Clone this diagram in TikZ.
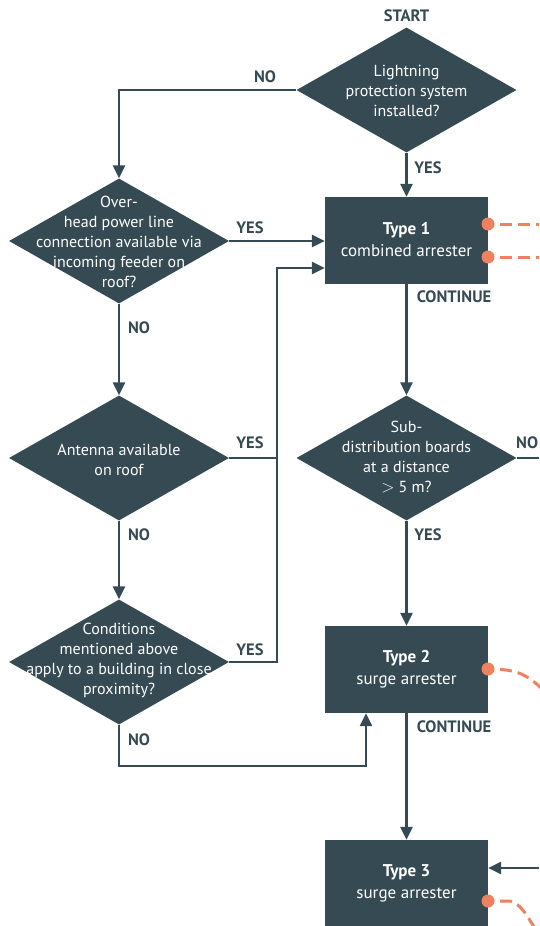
\documentclass[tikz,border=0pt]{standalone}
\usepackage{fontspec}
\setmainfont{PT Sans}
\usetikzlibrary{shapes.geometric,arrows.meta}
\definecolor{slate}{HTML}{364A53}
\definecolor{coral}{HTML}{EF8161}
\begin{document}
\begin{tikzpicture}[x=1pt,y=-1pt,
  dia/.style={diamond,fill=slate,minimum width=220pt,minimum height=125pt,inner sep=0pt},
  dtext/.style={text=white,align=center,font=\fontsize{16}{20}\selectfont},
  box/.style={rectangle,fill=slate,minimum width=163pt,minimum height=87pt,inner sep=0pt},
  btext/.style={text=white,align=center,font=\fontsize{17}{22}\selectfont},
  lbl/.style={text=slate,font=\bfseries\fontsize{16.5}{18}\selectfont},
  conn/.style={draw=slate,line width=2.5pt},
  arr/.style={conn,-{Triangle[length=13pt,width=12pt]}},
  tap/.style={draw=coral,line width=3pt,dash pattern=on 12pt off 6pt,dash phase=6pt},
  dot/.style={circle,fill=coral,minimum size=13pt,inner sep=0pt}
]
\useasboundingbox (0,0) rectangle (539,926);

% shapes
\node[dia] (d1) at (406.5,90) {};
\node[dia] (d2) at (119,241) {};
\node[dia] (d3) at (119,458) {};
\node[dia] (d4) at (119,662) {};
\node[dia] (d5) at (406.5,458) {};
\node[box] (b1) at (406.5,240.5) {};
\node[box] (b2) at (406.5,669.5) {};
\node[box] (b3) at (406.5,883.5) {};

% texts
\node[dtext] (t1) at (406.5,91) {Lightning\\protection system\\installed?};
\node[dtext] (t2) at (119,242) {Over-\\head power line\\connection available via\\incoming feeder on\\roof?};
\node[dtext] (t3) at (119,460) {Antenna available\\on roof};
\node[dtext] (t4) at (119,660) {Conditions\\mentioned above\\apply to a building in close\\proximity?};
\node[dtext] (t5) at (406.5,457) {Sub-\\distribution boards\\at a distance\\$>$ 5 m?};
\node[btext] (bt1) at (406.5,240) {\textbf{Type 1}\\combined arrester};
\node[btext] (bt2) at (406.5,669) {\textbf{Type 2}\\surge arrester};
\node[btext] (bt3) at (406.5,883) {\textbf{Type 3}\\surge arrester};

% labels
\node[lbl] (lstart) at (406.5,16) {START};
\node[lbl] (l1) at (265,77) {NO};
\node[lbl] (l2) at (428,168) {YES};
\node[lbl] (l3) at (250,228) {YES};
\node[lbl] (l4) at (454,297) {CONTINUE};
\node[lbl] (l5) at (139,328) {NO};
\node[lbl] (l6) at (250,443) {YES};
\node[lbl,anchor=west,inner sep=1pt] (l7) at (515,443) {NO};
\node[lbl] (l8) at (428,535) {YES};
\node[lbl] (l9) at (139,535) {NO};
\node[lbl] (l10) at (250,650) {YES};
\node[lbl] (l11) at (139,740) {NO};
\node[lbl] (l12) at (454,727) {CONTINUE};

% junction coordinates
\coordinate (c1) at (119,90);
\coordinate (j1) at (277,268);
\coordinate (j3) at (277,458);
\coordinate (j4) at (277,662);
\coordinate (e5) at (539,458);
\coordinate (n4) at (119,766);
\coordinate (n4b) at (366,766);
\coordinate (in3) at (539,868);

% connectors
\draw[arr] (d1.south) -- (b1.north);
\draw[arr] (d1.west) -- (c1) -- (d2.north);
\draw[arr] (d2.east) -- (d2.east -| b1.west);
\draw[arr] (d2.south) -- (d3.north);
\draw[arr] (d3.south) -- (d4.north);
\draw[arr] (d3.east) -- (j3) -- (j1) -- (j1 -| b1.west);
\draw[conn] (d4.east) -- (j4) -- (j3);
\draw[arr] (b1.south) -- (d5.north);
\draw[conn] (d5.east) -- (e5);
\draw[arr] (d5.south) -- (b2.north);
\draw[arr] (d4.south) -- (n4) -- (n4b) -- (n4b |- b2.south);
\draw[arr] (b2.south) -- (b3.north);
\draw[arr] (in3) -- (in3 -| b3.east);

% taps
\coordinate (p1) at (488,224);
\coordinate (p2) at (488,257);
\coordinate (p3) at (488,669);
\coordinate (p4) at (488,901);
\coordinate (q1) at (539,224);
\coordinate (q2) at (539,257);
\coordinate (q3) at (541,688);
\coordinate (q4) at (534,927);
\draw[tap] (p1) -- (q1);
\draw[tap] (p2) -- (q2);
\draw[tap] (p3) .. controls (516,669) and (526,674) .. (q3);
\draw[tap] (p4) -- (508,901) .. controls (517,901) and (524,910) .. (q4);
\node[dot] (o1) at (p1) {};
\node[dot] (o2) at (p2) {};
\node[dot] (o3) at (p3) {};
\node[dot] (o4) at (p4) {};
\end{tikzpicture}
\end{document}
